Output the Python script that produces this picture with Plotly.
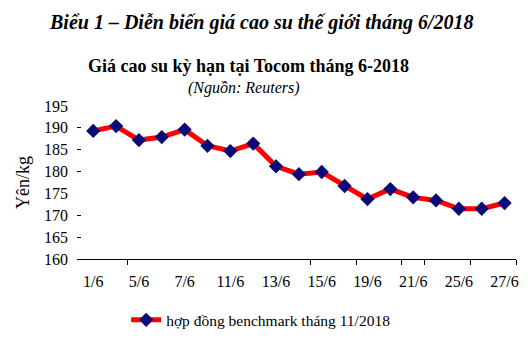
import plotly.graph_objects as go

dates = ["1/6", "4/6", "5/6", "6/6", "7/6", "8/6", "11/6", "12/6", "13/6", "14/6",
         "15/6", "18/6", "19/6", "20/6", "21/6", "22/6", "25/6", "26/6", "27/6"]
prices = [189.3, 190.4, 187.2, 187.9, 189.6, 185.9, 184.7, 186.4, 181.2, 179.4,
          179.9, 176.7, 173.7, 176.0, 174.1, 173.4, 171.5, 171.5, 172.8]
label_idx = list(range(0, len(dates), 2))
tick_labels = [dates[i] for i in label_idx]
y_ticks = [160, 165, 170, 175, 180, 185, 190, 195]
x_marks = [1.5, 9.5, 11.5, 13.5, 14.5, 16.5, 18.5]
y_marks = [165, 170, 180, 185, 190]

FONT = "Liberation Serif"
x = list(range(len(dates)))

fig = go.Figure()
fig.add_trace(go.Scatter(
    x=x, y=prices, mode="lines+markers",
    name="hợp đồng benchmark tháng 11/2018",
    line=dict(color="#FF0000", width=5),
    marker=dict(symbol="diamond", size=11, color="#0A0A78"),
))
fig.add_trace(go.Scatter(x=[x[0]], y=[prices[0]], xaxis="x2", yaxis="y2",
                         mode="markers", marker=dict(opacity=0), showlegend=False,
                         hoverinfo="skip"))

xr = [-0.71, 18.5]
yr = [160, 195]
fig.update_layout(
    width=531, height=351,
    margin=dict(l=77, r=13, t=106, b=92),
    paper_bgcolor="white", plot_bgcolor="white",
    font=dict(family=FONT, size=16, color="black"),
    showlegend=True,
    legend=dict(orientation="h", x=0.112, y=-0.40, xanchor="left", yanchor="middle",
                font=dict(family=FONT, size=15.5), itemwidth=30),
    xaxis=dict(range=xr, tickmode="array", tickvals=label_idx, ticktext=tick_labels,
               ticks="", showline=True, linecolor="black", linewidth=1,
               showgrid=False, zeroline=False, ticklabelstandoff=8,
               tickfont=dict(family=FONT, size=16)),
    xaxis2=dict(range=xr, overlaying="x", anchor="y", side="bottom",
                tickmode="array", tickvals=x_marks, ticks="outside", ticklen=5,
                tickcolor="black", showticklabels=False, showline=False,
                showgrid=False, zeroline=False),
    yaxis=dict(range=yr, tickmode="array", tickvals=y_ticks, ticks="",
               showline=False, showgrid=False, zeroline=False,
               ticklabelstandoff=8, tickfont=dict(family=FONT, size=16),
               title=dict(text="Yên/kg", font=dict(family=FONT, size=18), standoff=9)),
    yaxis2=dict(range=yr, overlaying="y", anchor="x", side="left",
                tickmode="array", tickvals=y_marks, ticks="inside", ticklen=4,
                tickcolor="black", showticklabels=False, showline=False,
                showgrid=False, zeroline=False),
    annotations=[
        dict(text="<b><i>Biểu 1 – Diễn biến giá cao su thế giới tháng 6/2018</i></b>",
             xref="paper", yref="paper", x=0.42, y=1.545, xanchor="center", yanchor="middle",
             showarrow=False, font=dict(family=FONT, size=20)),
        dict(text="<b>Giá cao su kỳ hạn tại Tocom tháng 6-2018</b>",
             xref="paper", yref="paper", x=0.39, y=1.264, xanchor="center", yanchor="middle",
             showarrow=False, font=dict(family=FONT, size=18)),
        dict(text="<i>(Nguồn: Reuters)</i>",
             xref="paper", yref="paper", x=0.381, y=1.115, xanchor="center", yanchor="middle",
             showarrow=False, font=dict(family=FONT, size=16)),
    ],
)
fig.write_html("out.html")
